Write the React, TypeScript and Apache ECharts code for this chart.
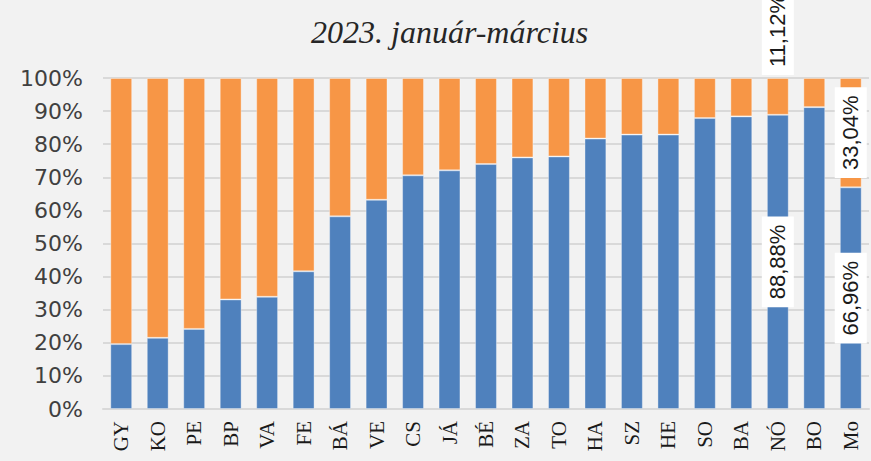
import React, { useEffect, useRef } from "react";
import * as echarts from "echarts";

const categories = ["GY", "KO", "PE", "BP", "VA", "FE", "BÁ", "VE", "CS", "JÁ", "BÉ", "ZA", "TO", "HA", "SZ", "HE", "SO", "BA", "NÓ", "BO", "Mo"];
const blueShare = [19.6, 21.5, 24.2, 33.1, 33.9, 41.6, 58.2, 63.2, 70.6, 72.1, 74.0, 76.0, 76.3, 81.7, 82.9, 82.9, 87.9, 88.4, 88.88, 91.2, 66.96];
const orangeShare = [80.4, 78.5, 75.8, 66.9, 66.1, 58.4, 41.8, 36.8, 29.4, 27.9, 26.0, 24.0, 23.7, 18.3, 17.1, 17.1, 12.1, 11.6, 11.12, 8.8, 33.04];
const yTicks = [0, 10, 20, 30, 40, 50, 60, 70, 80, 90, 100];
const subtitle = "2023. január-március";
const labelledInside = ["NÓ", "Mo"];
const labelledAbove = ["NÓ"];

const fmt = (v: number) => v.toFixed(2).replace(".", ",") + "%";

const boxLabel = {
  show: true,
  rotate: 90,
  backgroundColor: "#ffffff",
  color: "#1a1a1a",
  fontFamily: "Liberation Sans",
  fontSize: 22,
  padding: [5, 8],
  formatter: (p: any) => fmt(p.value),
};

export default function App() {
  const ref = useRef<HTMLDivElement>(null);
  useEffect(() => {
    if (!ref.current) return;
    const chart = echarts.init(ref.current, null, { renderer: "svg" });
    const blueData = blueShare.map((v, i) =>
      labelledInside.includes(categories[i])
        ? { value: v, label: { ...boxLabel, position: "inside" } }
        : v
    );
    const orangeData = orangeShare.map((v, i) => {
      const c = categories[i];
      if (labelledAbove.includes(c)) {
        return { value: v, label: { ...boxLabel, position: "top", distance: 3, align: "left", verticalAlign: "middle" } };
      }
      if (labelledInside.includes(c)) {
        return { value: v, label: { ...boxLabel, position: "inside" } };
      }
      return v;
    });
    chart.setOption({
      animation: false,
      backgroundColor: "#f2f2f2",
      title: {
        text: subtitle,
        left: 306,
        top: 11,
        textStyle: {
          fontFamily: "Liberation Serif",
          fontStyle: "italic",
          fontWeight: "normal",
          fontSize: 32,
          color: "#262626",
        },
      },
      grid: { left: 103, right: 2, top: 78, bottom: 52, containLabel: false },
      xAxis: {
        type: "category",
        data: categories,
        axisTick: { show: false },
        axisLine: { show: true, lineStyle: { color: "#d9d9d9", width: 2 } },
        axisLabel: {
          rotate: 90,
          interval: 0,
          margin: 12,
          fontFamily: "Liberation Serif",
          fontSize: 21,
          color: "#1a1a1a",
        },
      },
      yAxis: {
        type: "value",
        min: yTicks[0],
        max: yTicks[yTicks.length - 1],
        interval: 10,
        axisLine: { show: false },
        axisTick: { show: false },
        splitLine: { lineStyle: { color: "#d9d9d9", width: 2 } },
        axisLabel: {
          formatter: "{value}%",
          margin: 20,
          fontFamily: "DejaVu Sans",
          fontSize: 22,
          color: "#404040",
        },
      },
      series: [
        {
          type: "bar",
          stack: "total",
          data: blueData,
          barWidth: "60%",
          itemStyle: { color: "#4f81bd", borderColor: "rgba(255,255,255,0.35)", borderWidth: 1 },
        },
        {
          type: "bar",
          stack: "total",
          data: orangeData,
          barWidth: "60%",
          itemStyle: { color: "#f79646", borderColor: "rgba(255,255,255,0.35)", borderWidth: 1 },
        },
      ],
    });
    return () => chart.dispose();
  }, []);
  return (
    <div
      ref={ref}
      style={{ position: "fixed", left: 0, top: 0, width: 871, height: 461 }}
    />
  );
}
